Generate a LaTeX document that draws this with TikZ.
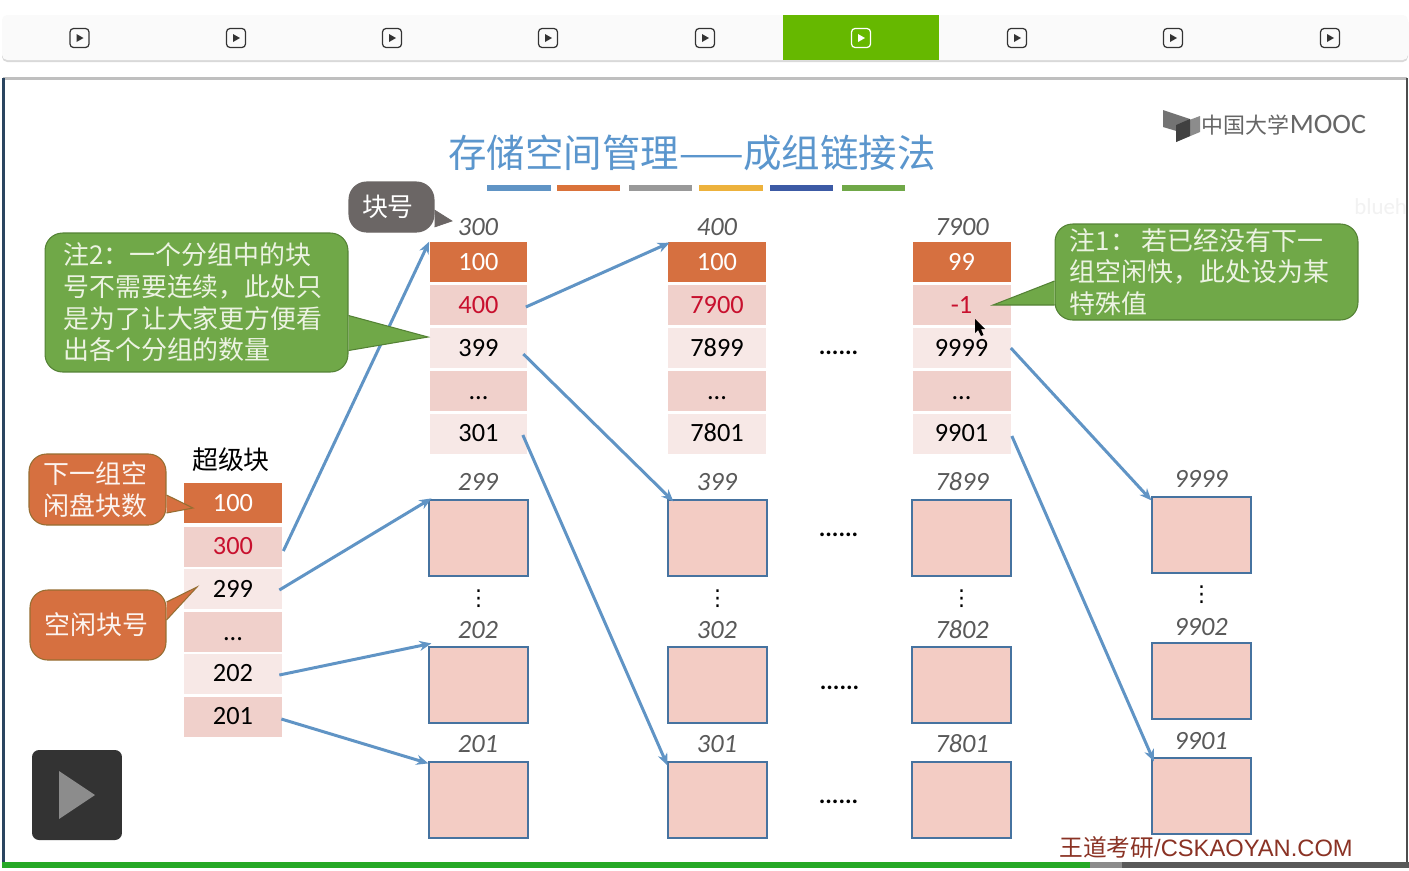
\documentclass[tikz,border=0pt]{standalone}
\usepackage{fontspec}
\setmainfont{Carlito}
\newfontfamily\cjk{Noto Sans CJK SC}
\newfontfamily\arialish{Liberation Sans}
\newfontfamily\dotfont{DejaVu Sans}
\usetikzlibrary{arrows.meta}
\definecolor{ink}{RGB}{89,89,89}
\definecolor{cHead}{RGB}{214,112,64}
\definecolor{cMid}{RGB}{240,208,203}
\definecolor{cPale}{RGB}{247,232,230}
\definecolor{cBlock}{RGB}{243,204,196}
\definecolor{cEdge}{RGB}{70,115,160}
\definecolor{cLink}{RGB}{96,148,197}
\definecolor{cTitle}{RGB}{91,150,205}
\definecolor{cRed}{RGB}{200,16,46}
\definecolor{cNote}{RGB}{112,168,72}
\definecolor{cNoteEdge}{RGB}{84,130,53}
\definecolor{cNoteText}{RGB}{236,243,226}
\definecolor{cOrangeEdge}{RGB}{150,110,50}
\definecolor{cGrey}{RGB}{107,102,101}
\definecolor{cTab}{RGB}{102,184,0}
\definecolor{cWang}{RGB}{138,50,36}
\definecolor{cBarY}{RGB}{237,178,60}
\definecolor{cBarB}{RGB}{60,90,165}
\tikzset{
  cell/.style={minimum width=1.96cm,minimum height=.8cm,inner sep=0pt,
    font=\fontsize{15}{16}\selectfont,text=black,text height=9.5pt,text depth=0pt},
  headcell/.style={cell,fill=cHead,text=white},
  midcell/.style={cell,fill=cMid},
  palecell/.style={cell,fill=cPale},
  block/.style={draw=cEdge,line width=.7pt,fill=cBlock,minimum width=1.98cm,
    minimum height=1.52cm,inner sep=0pt},
  tag/.style={font=\fontsize{15}{16}\selectfont\itshape,text=ink,inner sep=1pt},
  gap/.style={font=\fontsize{14}{16}\selectfont\bfseries,text=black,inner sep=0pt},
  vgap/.style={font=\fontsize{12.5}{13}\selectfont\dotfont,text=black,inner sep=0pt},
  ar/.style={-{Stealth[length=2.4mm,width=2mm]},draw=cLink,line width=1.7pt},
  note/.style={rectangle,rounded corners=10pt,align=left,inner sep=0pt,
    font=\fontsize{14.75}{18}\selectfont\cjk,text=cNoteText,fill=cNote,
    draw=cNoteEdge,line width=.6pt},
  notetip/.style={fill=cNote,draw=cNoteEdge,line width=.6pt},
  orangenote/.style={note,fill=cHead,draw=cOrangeEdge,text=white!92!cHead},
  orangetip/.style={fill=cHead,draw=cOrangeEdge,line width=.6pt},
  greynote/.style={note,fill=cGrey,draw=cGrey,text=white},
  bar/.style={minimum width=1.27cm,minimum height=.12cm,inner sep=0pt},
  icon/.style={draw=black!80,rounded corners=2pt,line width=.7pt,
    minimum size=.38cm,inner sep=0pt},
}
\newcommand{\playicon}[3]{%
  \node[icon,draw=#3] (#1) at (#2,38) {};
  \fill[#3] ([shift={(-3,-4)}]#1.center) -- ([shift={(4,0)}]#1.center)
    -- ([shift={(-3,4)}]#1.center) -- cycle;}

\begin{document}
\begin{tikzpicture}[x=.02cm,y=-.02cm]
  \useasboundingbox (0,0) rectangle (1409,870);
  \fill[white] (0,0) rectangle (1409,870);

  % player strip on top
  \fill[black!15,rounded corners=3pt] (2,17) rectangle (1408,62);
  \fill[black!2,rounded corners=3pt] (2,15) rectangle (1408,60);
  \node[fill=cTab,minimum width=3.12cm,minimum height=.9cm,inner sep=0pt] (tab) at (861,37.5) {};
  \playicon{play1}{79.5}{black!80}
  \playicon{play2}{236}{black!80}
  \playicon{play3}{392}{black!80}
  \playicon{play4}{548}{black!80}
  \playicon{play5}{705}{black!80}
  \playicon{play6}{861}{white}
  \playicon{play7}{1017}{black!80}
  \playicon{play8}{1173}{black!80}
  \playicon{play9}{1330}{black!80}

  % slide frame
  \fill[black!25] (3,77) rectangle (1407,80);
  \fill[cEdge!60!black] (2,78) rectangle (5,862);
  \fill[black!70] (1406,78) rectangle (1408,862);
  \fill[black!65] (1122,862) rectangle (1409,868);
  \fill[black!45] (1090,862) rectangle (1122,868);
  \fill[green!60!black!85] (2,862) rectangle (1090,868);

  % logo
  \fill[black!55] (1163,110) -- (1190,119) -- (1190,135) -- (1163,127) -- cycle;
  \fill[black!45] (1200,116) -- (1200,132) -- (1176,142) -- (1176,125) -- cycle;
  \fill[black!75] (1176,125) -- (1190,119) -- (1190,136) -- (1176,142) -- cycle;
  \node[font=\fontsize{16}{18}\selectfont,text=black!60,inner sep=0pt] (logo) at (1284,125)
    {{\fontsize{12.5}{18}\selectfont\cjk 中国大学}MOOC};
  \node[font=\fontsize{13}{15}\selectfont,text=black!5,inner sep=0pt,anchor=west] (mark) at (1354,207) {blueh};

  % title and its colour bars
  \node[font=\fontsize{21.9}{24}\selectfont\cjk,text=cTitle,inner sep=0pt] (title) at (692,153)
    {存储空间管理——成组链接法};
  \node[bar,fill=cLink] (bar1) at (519,188) {};
  \node[bar,fill=cHead!90!orange] (bar2) at (588.5,188) {};
  \node[bar,fill=black!40] (bar3) at (660.5,188) {};
  \node[bar,fill=cBarY] (bar4) at (731,188) {};
  \node[bar,fill=cBarB] (bar5) at (801.5,188) {};
  \node[bar,fill=cNote] (bar6) at (873.5,188) {};

  % superblock
  \node[font=\fontsize{14.75}{16}\selectfont\cjk,inner sep=0pt] (super) at (231,460) {超级块};
  \node[headcell] (s1) at (233,503) {100};
  \node[midcell,text=cRed] (s2) at (233,546.5) {300};
  \node[palecell] (s3) at (233,589) {299};
  \node[midcell] (s4) at (233,632) {...};
  \node[palecell] (s5) at (233,673.5) {202};
  \node[midcell] (s6) at (233,716.5) {201};

  % first group
  \node[tag] (t300) at (478,227) {300};
  \node[headcell] (a1) at (478.5,262) {100};
  \node[midcell,text=cRed] (a2) at (478.5,305) {400};
  \node[palecell] (a3) at (478.5,348) {399};
  \node[midcell] (a4) at (478.5,391) {...};
  \node[palecell] (a5) at (478.5,433.5) {301};
  \node[tag] (t299) at (478,482) {299};
  \node[block] (b299) at (478.5,538) {};
  \node[vgap] (va) at (478.5,599) {⋮};
  \node[tag] (t202) at (478,630) {202};
  \node[block] (b202) at (478.5,685) {};
  \node[tag] (t201) at (478,744) {201};
  \node[block] (b201) at (478.5,800) {};

  % second group
  \node[tag] (t400) at (717,227) {400};
  \node[headcell] (c1) at (717,262) {100};
  \node[midcell,text=cRed] (c2) at (717,305) {7900};
  \node[palecell] (c3) at (717,348) {7899};
  \node[midcell] (c4) at (717,391) {...};
  \node[palecell] (c5) at (717,433.5) {7801};
  \node[tag] (t399) at (717,482) {399};
  \node[block] (b399) at (717.5,538) {};
  \node[vgap] (vc) at (717.5,599) {⋮};
  \node[tag] (t302) at (717,630) {302};
  \node[block] (b302) at (717.5,685) {};
  \node[tag] (t301) at (717,744) {301};
  \node[block] (b301) at (717.5,800) {};

  % dots between groups
  \node[gap] (d1) at (838.5,353) {......};
  \node[gap] (d2) at (838.5,535) {......};
  \node[gap] (d3) at (839.5,688) {......};
  \node[gap] (d4) at (838.5,802) {......};

  % last group
  \node[tag] (t7900) at (962,227) {7900};
  \node[headcell] (e1) at (961.5,262) {99};
  \node[midcell,text=cRed] (e2) at (961.5,305) {-1};
  \node[palecell] (e3) at (961.5,348) {9999};
  \node[midcell] (e4) at (961.5,391) {...};
  \node[palecell] (e5) at (961.5,433.5) {9901};
  \node[tag] (t7899) at (962,482) {7899};
  \node[block] (b7899) at (961.5,538) {};
  \node[vgap] (ve) at (961.5,599) {⋮};
  \node[tag] (t7802) at (962,630) {7802};
  \node[block] (b7802) at (961.5,685) {};
  \node[tag] (t7801) at (962,744) {7801};
  \node[block] (b7801) at (961.5,800) {};

  % blocks of the last group
  \node[tag] (t9999) at (1201,479) {9999};
  \node[block] (b9999) at (1201.5,535) {};
  \node[vgap] (vg) at (1201.5,595) {⋮};
  \node[tag] (t9902) at (1201,627) {9902};
  \node[block] (b9902) at (1201.5,681) {};
  \node[tag] (t9901) at (1201,741) {9901};
  \node[block] (b9901) at (1201.5,796) {};

  % links
  \draw[ar] ([shift={(1,4.5)}]s2.east) -- (a1.north west);
  \draw[ar] ([shift={(-3,1)}]s3.east) -- ([shift={(3,-1)}]b299.north west);
  \draw[ar] ([shift={(-3,1.5)}]s5.east) -- ([shift={(3,-3)}]b202.north west);
  \draw[ar] ([shift={(-1,2.5)}]s6.east) -- ([shift={(0,2)}]b201.north west);
  \draw[ar] ([shift={(-2,2)}]a2.east) -- ([shift={(2,1)}]c1.north west);
  \draw[ar] ([shift={(-4.5,6)}]a3.east) -- ([shift={(6,2)}]b399.north west);
  \draw[ar] ([shift={(-5,1.5)}]a5.east) -- ([shift={(0,4)}]b301.north west);
  \draw[ar] (e3.east) -- ([shift={(0,4)}]b9999.north west);
  \draw[ar] ([shift={(1,2.5)}]e5.east) -- ([shift={(2.5,4)}]b9901.north west);

  % callouts
  \node[greynote,minimum width=1.7cm,minimum height=1cm] (nblk) at (391.5,207) {块号\hspace*{4pt}};
  \coordinate (tipblk) at (452,221);
  \filldraw[fill=cGrey,draw=cGrey] ([shift={(0,3)}]nblk.east) -- (tipblk) -- ([shift={(0,20)}]nblk.east);
  \node[note,minimum width=6.06cm,minimum height=2.78cm] (n2) at (196.5,302.5)
    {注2：一个分组中的块\\号不需要连续，此处只\kern4pt\\是为了让大家更方便看\\出各个分组的数量};
  \coordinate (tip2) at (428,337);
  \filldraw[notetip] ([shift={(0,13)}]n2.east) -- (tip2) -- ([shift={(0,48)}]n2.east);
  \node[note,minimum width=6.06cm,minimum height=1.92cm] (n1) at (1206.5,272)
    {注1： 若已经没有下一\\组空闲快，此处设为某\kern8pt\\特殊值};
  \coordinate (tip1) at (993,305);
  \filldraw[notetip] ([shift={(0,9)}]n1.west) -- (tip1) -- ([shift={(0,33)}]n1.west);
  \node[orangenote,minimum width=2.74cm,minimum height=1.42cm] (nnum) at (97.5,489.5) {下一组空\\闲盘块数\hspace*{2pt}};
  \coordinate (tipnum) at (193,508);
  \filldraw[orangetip] ([shift={(0,5.5)}]nnum.east) -- (tipnum) -- ([shift={(0,23.5)}]nnum.east);
  \node[orangenote,minimum width=2.72cm,minimum height=1.4cm] (nfree) at (98,625) {空闲块号\hspace*{2pt}};
  \coordinate (tipfree) at (197,587);
  \filldraw[orangetip] ([shift={(0,-23)}]nfree.east) -- (tipfree) -- ([shift={(0,-5)}]nfree.east);

  % mouse pointer
  \fill[black] (975,319) -- (975,333) -- (978,330) -- (981,336) -- (983.5,335) -- (981,329) -- (985,329) -- cycle;

  % big play button
  \node[fill=black!80,rounded corners=4pt,minimum size=1.8cm,inner sep=0pt] (bigplay) at (77,795) {};
  \fill[black!45] (59,771) -- (95,795) -- (59,819) -- cycle;

  % footer text
  \node[font=\fontsize{13.5}{15}\selectfont\arialish,text=cWang,inner sep=0pt] (wang) at (1206,847)
    {{\cjk 王道考研}/CSKAOYAN.COM};
\end{tikzpicture}
\end{document}
